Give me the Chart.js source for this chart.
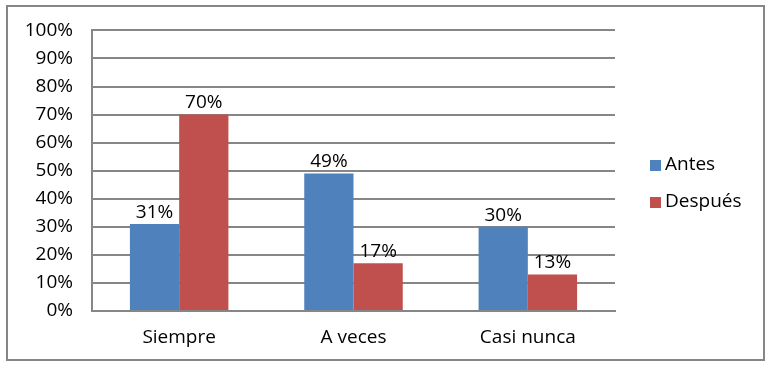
<!DOCTYPE html>
<html lang="es">
<head>
  <meta charset="UTF-8">
  <title>Antes / Después</title>
  <script src="https://cdn.jsdelivr.net/npm/chart.js"></script>
  <style>
    html, body { margin: 0; padding: 0; background: #fff; }
    #wrap { position: relative; width: 769px; height: 366px; }
  </style>
</head>
<body>
  <div id="wrap"><canvas id="chart" width="769" height="366"></canvas></div>

  <script>
    // datos
    const categorias = ['Siempre', 'A veces', 'Casi nunca'];
    const antes = [31, 49, 30];
    const despues = [70, 17, 13];
    const ticksY = ['0%', '10%', '20%', '30%', '40%', '50%', '60%', '70%', '80%', '90%', '100%'];

    const FONT = '"Open Sans", sans-serif';
    const TAM = 19;
    const AZUL = '#4F81BD';
    const ROJO = '#C0504D';
    const GRIS = '#868686';

    // marco exterior + leyenda a la derecha
    const marco = {
      id: 'marco',
      afterDraw(chart) {
        const c = chart.ctx;
        c.save();
        c.strokeStyle = GRIS;
        c.lineWidth = 2;
        c.strokeRect(7, 6, 757, 354);

        c.font = TAM + 'px ' + FONT;
        c.textBaseline = 'middle';
        c.textAlign = 'left';
        const ys = [165, 202];
        chart.data.datasets.forEach((ds, i) => {
          c.fillStyle = ds.backgroundColor;
          c.fillRect(650, ys[i] - 5, 11, 11);
          c.fillStyle = '#000';
          c.fillText(ds.label, 665, ys[i]);
        });
        c.restore();
      }
    };

    // etiquetas de valor encima de cada barra
    const etiquetas = {
      id: 'etiquetas',
      afterDatasetsDraw(chart) {
        const c = chart.ctx;
        c.save();
        c.font = TAM + 'px ' + FONT;
        c.fillStyle = '#000';
        c.textAlign = 'center';
        c.textBaseline = 'bottom';
        chart.data.datasets.forEach((ds, i) => {
          chart.getDatasetMeta(i).data.forEach((bar, j) => {
            c.fillText(ds.data[j] + '%', bar.x, bar.y - 2);
          });
        });
        c.restore();
      }
    };

    new Chart(document.getElementById('chart'), {
      type: 'bar',
      data: {
        labels: categorias,
        datasets: [
          { label: 'Antes', data: antes, backgroundColor: AZUL },
          { label: 'Después', data: despues, backgroundColor: ROJO }
        ]
      },
      options: {
        responsive: false,
        animation: false,
        layout: { padding: { top: 30, right: 154, left: 0, bottom: 0 } },
        datasets: { bar: { categoryPercentage: 0.565, barPercentage: 1 } },
        plugins: { legend: { display: false }, tooltip: { enabled: false } },
        scales: {
          x: {
            afterFit(s) { s.height = 55; },
            grid: { display: false, drawTicks: false },
            border: { color: GRIS, width: 2 },
            ticks: { color: '#000', font: { family: FONT, size: TAM }, padding: 15 }
          },
          y: {
            min: 0, max: 100,
            afterFit(s) { s.width = 92; },
            grid: { color: GRIS, lineWidth: 2, drawTicks: false },
            border: { color: GRIS, width: 2 },
            ticks: {
              stepSize: 10,
              color: '#000',
              font: { family: FONT, size: TAM },
              padding: 19,
              callback: (v, i) => ticksY[i]
            }
          }
        }
      },
      plugins: [marco, etiquetas]
    });
  </script>
</body>
</html>
